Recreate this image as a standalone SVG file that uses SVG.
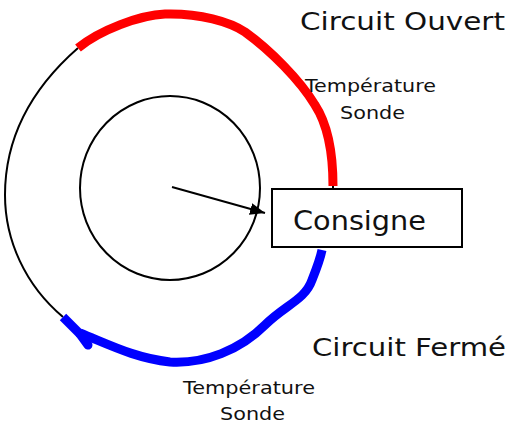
<svg xmlns="http://www.w3.org/2000/svg" width="511" height="425" viewBox="0 0 511 425">
<style>
.thin{fill:none;stroke:#000;stroke-width:2}
.red{fill:none;stroke:#ff0000;stroke-width:9}
.blue{fill:none;stroke:#0000ff;stroke-width:9}
text{font-family:"DejaVu Sans","Liberation Sans",sans-serif;fill:#111}
</style>
<defs>
<marker id="ah" markerWidth="15" markerHeight="12" refX="15" refY="6" orient="auto" markerUnits="userSpaceOnUse" viewBox="0 0 15 12">
<path d="M0,0 L15,6 L0,12 Z" fill="#000"/>
</marker>
</defs>
<g id="connectors">
<path class="thin" d="M78,48 C30,90 5,140 5,195 C5,240 25,285 63,317"/>
<path class="thin" d="M333,184 L333,190"/>
<path class="red" d="M78,48 C100,30 140,15 165,14 C200,13 230,22 245,32 C270,50 300,80 315,105 C330,128 333,160 333,186"/>
<path class="blue" d="M63,317 L80,334"/>
<path class="blue" stroke-linecap="round" d="M80,334 L88,345"/>
<path class="blue" d="M80,333 C110,345 135,358 170,362 C205,364 240,350 265,325 C285,305 305,300 312,280 C318,265 321,255 322,250"/>
<path class="thin" d="M172,187 L265,213" marker-end="url(#ah)"/>
</g>
<g id="dial">
<ellipse class="thin" cx="170" cy="188" rx="90" ry="92"/>
</g>
<g id="consigne">
<rect x="272" y="189" width="190" height="58" fill="#fff" stroke="#000" stroke-width="2"/>
<text x="293" y="230" font-size="26" textLength="133" lengthAdjust="spacingAndGlyphs">Consigne</text>
</g>
<g id="labels">
<text x="300" y="30" font-size="24" textLength="205" lengthAdjust="spacingAndGlyphs">Circuit  Ouvert</text>
<text x="312" y="356" font-size="24" textLength="194" lengthAdjust="spacingAndGlyphs">Circuit  Fermé</text>
<text x="305" y="92" font-size="18" textLength="131" lengthAdjust="spacingAndGlyphs">Température</text>
<text x="340" y="119" font-size="18" textLength="65" lengthAdjust="spacingAndGlyphs">Sonde</text>
<text x="183" y="394" font-size="18" textLength="132" lengthAdjust="spacingAndGlyphs">Température</text>
<text x="220" y="420" font-size="18" textLength="65" lengthAdjust="spacingAndGlyphs">Sonde</text>
</g>
</svg>
